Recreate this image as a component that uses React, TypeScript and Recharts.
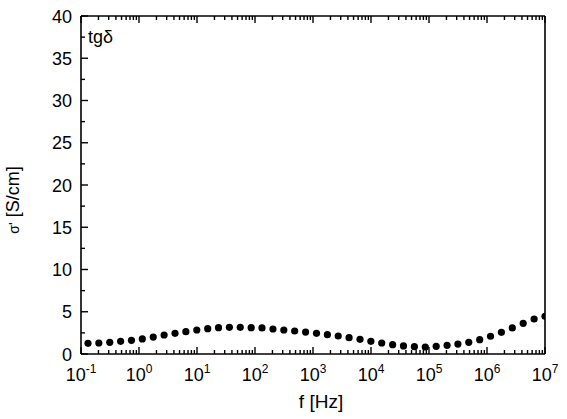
import { ScatterChart, Scatter, XAxis, YAxis, Customized } from "recharts";

// measured points: frequency [Hz] and sigma'
const freq: number[] = [
  0.132, 0.203, 0.313, 0.482, 0.741, 1.14, 1.76, 2.71, 4.18, 6.43,
  9.91, 15.3, 23.5, 36.2, 55.7, 85.9, 132, 204, 314, 483,
  745, 1150, 1770, 2720, 4190, 6460, 9950, 15300, 23600, 36300,
  56000, 86300, 133000, 205000, 315000, 485000, 748000, 1150000, 1770000, 2730000,
  4210000, 6490000, 10000000,
];
const sigma: number[] = [
  1.26, 1.3, 1.38, 1.5, 1.62, 1.78, 2.0, 2.25, 2.45, 2.64,
  2.84, 3.0, 3.12, 3.16, 3.16, 3.12, 3.08, 2.96, 2.84, 2.72,
  2.6, 2.45, 2.29, 2.13, 1.93, 1.74, 1.5, 1.3, 1.1, 0.95,
  0.87, 0.83, 0.91, 1.03, 1.18, 1.38, 1.7, 2.1, 2.56, 3.08,
  3.63, 4.14, 4.46,
];

const xMajorTicks: number[] = [0.1, 1, 10, 100, 1000, 10000, 100000, 1000000, 10000000];
const xExponents: string[] = ["-1", "0", "1", "2", "3", "4", "5", "6", "7"];
const yMajorTicks: number[] = [0, 5, 10, 15, 20, 25, 30, 35, 40];
const yMinorTicks: number[] = [2.5, 7.5, 12.5, 17.5, 22.5, 27.5, 32.5, 37.5];

const data = freq.map((f, i) => ({ f, s: sigma[i] }));

const xMinorTicks: number[] = [];
xMajorTicks.slice(0, -1).forEach((m) => {
  for (let k = 2; k <= 9; k++) xMinorTicks.push(+(m * k).toPrecision(3));
});
const xTicks = [...xMajorTicks, ...xMinorTicks].sort((a, b) => a - b);
const yTicks = [...yMajorTicks, ...yMinorTicks].sort((a, b) => a - b);

const FONT = "'Liberation Sans', Arial, sans-serif";
const MAJOR = 7;
const MINOR = 4;
const AXIS = { stroke: "#000", strokeWidth: 1.6 };

function xIndex(v: number) {
  return xMajorTicks.findIndex((m) => Math.abs(m - v) / m < 1e-6);
}

function BottomTick(props: any) {
  const { x, y, payload } = props;
  const idx = xIndex(payload.value);
  const len = idx >= 0 ? MAJOR : MINOR;
  return (
    <g>
      <line x1={x} x2={x} y1={y} y2={y - len} stroke="#000" strokeWidth={1.4} />
      {idx >= 0 && (
        <text x={x} y={y + 27} textAnchor="middle" fontFamily={FONT} fontSize={18} fill="#000">
          <tspan>10</tspan>
          <tspan dy={-8} fontSize={12}>{xExponents[idx]}</tspan>
        </text>
      )}
    </g>
  );
}

function TopTick(props: any) {
  const { x, y, payload } = props;
  const len = xIndex(payload.value) >= 0 ? MAJOR : MINOR;
  return <line x1={x} x2={x} y1={y} y2={y + len} stroke="#000" strokeWidth={1.4} />;
}

function LeftTick(props: any) {
  const { x, y, payload } = props;
  const major = yMajorTicks.includes(payload.value);
  return (
    <g>
      <line x1={x} x2={x + (major ? MAJOR : MINOR)} y1={y} y2={y} stroke="#000" strokeWidth={1.4} />
      {major && (
        <text x={x - 9} y={y + 6.5} textAnchor="end" fontFamily={FONT} fontSize={18} fill="#000">
          {payload.value}
        </text>
      )}
    </g>
  );
}

function RightTick(props: any) {
  const { x, y, payload } = props;
  const major = yMajorTicks.includes(payload.value);
  return <line x1={x} x2={x - (major ? MAJOR : MINOR)} y1={y} y2={y} stroke="#000" strokeWidth={1.4} />;
}

const Dot = (props: any) => <circle cx={props.cx} cy={props.cy} r={3.6} fill="#000" />;

const Notes = () => (
  <g fontFamily={FONT} fill="#000">
    <text x={88} y={43} fontSize={18}>tgδ</text>
    <text x={321} y={408} fontSize={19} textAnchor="middle">f [Hz]</text>
    <text x={0} y={0} fontSize={18} textAnchor="middle" transform="translate(19,200) rotate(-90)">
      <tspan fontSize={14}>σ'</tspan> [S/cm]
    </text>
  </g>
);

export default function App() {
  return (
    <div style={{ position: "absolute", left: 0, top: 0, width: 567, height: 419, background: "#fff" }}>
      <ScatterChart width={567} height={419} margin={{ top: 15, right: 21, bottom: 0, left: 0 }}>
        <XAxis
          xAxisId="bottom"
          dataKey="f"
          type="number"
          scale="log"
          domain={[0.1, 10000000]}
          ticks={xTicks}
          interval={0}
          allowDataOverflow
          height={65}
          tickSize={0}
          tickMargin={0}
          tick={<BottomTick />}
          axisLine={AXIS}
        />
        <XAxis
          xAxisId="top"
          orientation="top"
          dataKey="f"
          type="number"
          scale="log"
          domain={[0.1, 10000000]}
          ticks={xTicks}
          interval={0}
          allowDataOverflow
          height={1}
          tickSize={0}
          tickMargin={0}
          tick={<TopTick />}
          axisLine={AXIS}
        />
        <YAxis
          yAxisId="left"
          dataKey="s"
          type="number"
          domain={[0, 40]}
          ticks={yTicks}
          interval={0}
          width={81}
          tickSize={0}
          tickMargin={0}
          tick={<LeftTick />}
          axisLine={AXIS}
        />
        <YAxis
          yAxisId="right"
          orientation="right"
          dataKey="s"
          type="number"
          domain={[0, 40]}
          ticks={yTicks}
          interval={0}
          width={1}
          tickSize={0}
          tickMargin={0}
          tick={<RightTick />}
          axisLine={AXIS}
        />
        <Scatter
          data={data}
          xAxisId="bottom"
          yAxisId="left"
          fill="#000"
          shape={<Dot />}
          isAnimationActive={false}
        />
        <Customized component={<Notes />} />
      </ScatterChart>
    </div>
  );
}
